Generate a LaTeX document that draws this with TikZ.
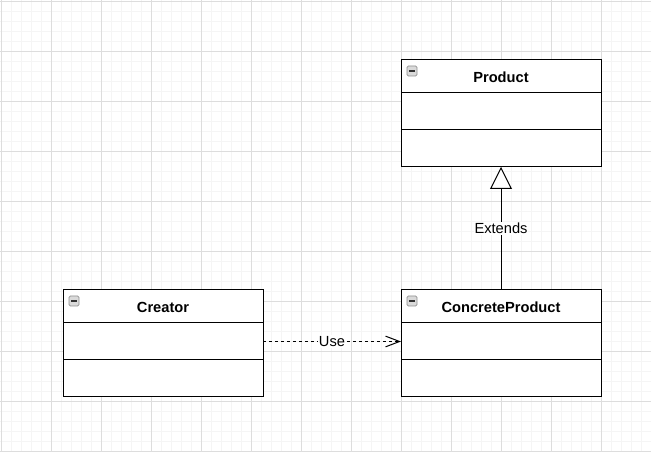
\documentclass[tikz,border=0pt]{standalone}
\usepackage{fontspec}
\setmainfont{Liberation Sans}
\usetikzlibrary{positioning,arrows.meta}

\definecolor{gridminor}{HTML}{F5F5F5}
\definecolor{gridmajor}{HTML}{DDDDDD}
\definecolor{iconfill}{HTML}{DADADA}
\definecolor{iconline}{HTML}{909090}

\begin{document}
\begin{tikzpicture}[x=0.75pt,y=-0.75pt,
    umlclass/.style={draw,line width=0.75pt,fill=white,inner sep=0pt,outer sep=0pt,
      minimum width=150pt,minimum height=80.25pt},
    classname/.style={font=\fontsize{11}{13}\selectfont\bfseries,inner sep=0pt},
    edgelabel/.style={font=\fontsize{11}{13}\selectfont,fill=white,inner sep=0.75pt},
    usesarrow/.style={line width=0.75pt,dash pattern=on 2.25pt off 2.25pt,
      -{Straight Barb[length=10.5pt,width=8pt]}},
    extendsarrow/.style={line width=0.75pt,
      -{Triangle[open,length=16.5pt,width=16.5pt,fill=white]}},
    collapseicon/.style={draw=iconline,fill=iconfill,rounded corners=1pt,line width=0.5pt}]
  \useasboundingbox (0,0) rectangle (651,452);
  % background grid
  \foreach \gx in {1,11,...,651} \draw[gridminor,line width=0.5pt] (\gx,0) -- (\gx,452);
  \foreach \gy in {1,11,...,452} \draw[gridminor,line width=0.5pt] (0,\gy) -- (651,\gy);
  \foreach \gx in {1,51,...,651} \draw[gridmajor,line width=0.6pt] (\gx,0) -- (\gx,452);
  \foreach \gy in {1,51,...,452} \draw[gridmajor,line width=0.6pt] (0,\gy) -- (651,\gy);

  % classes
  \node[umlclass] (creator) at (163,343.5) {};
  \node[umlclass,right=103.5pt of creator] (concrete) {};
  \node[umlclass,above=92.25pt of concrete] (product) {};

  \node[classname] (creatorname) at ([yshift=-13.2pt]creator.north) {Creator};
  \node[classname] (concretename) at ([yshift=-13.2pt]concrete.north) {ConcreteProduct};
  \node[classname] (productname) at ([yshift=-13.2pt]product.north) {Product};

  \foreach \c in {creator,concrete,product} {
    \draw[line width=0.75pt] (\c.north west) ++(0,33) -- ++(200,0);
    \draw[line width=0.75pt] (\c.north west) ++(0,70) -- ++(200,0);
    \draw[collapseicon] (\c.north west) ++(6,6) rectangle ++(10,10);
    \draw[line width=0.9pt,black!80] (\c.north west) ++(8,11) -- ++(6,0);
  }

  % relations
  \draw[usesarrow] ([yshift=1.5pt]creator.east) -- ([yshift=1.5pt]concrete.west)
    node[midway,edgelabel] (uselabel) {Use};
  \draw[extendsarrow] (concrete.north) -- (product.south)
    node[midway,edgelabel] (extendslabel) {Extends};
\end{tikzpicture}
\end{document}
